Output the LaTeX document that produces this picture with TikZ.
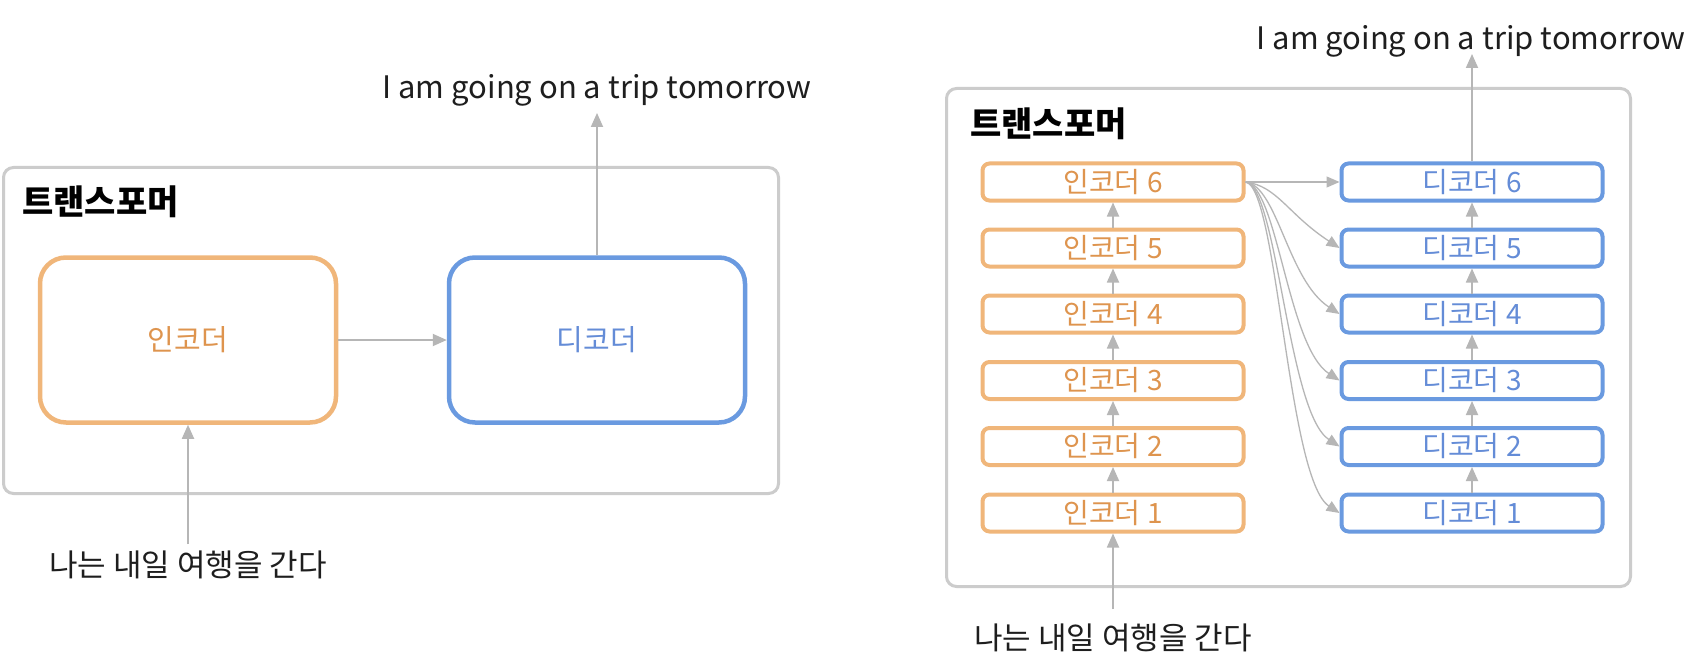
\documentclass[tikz,border=0pt]{standalone}
\usepackage{fontspec}
\setmainfont{Noto Sans CJK KR}
\usetikzlibrary{arrows.meta}
\definecolor{encline}{RGB}{240,182,122}
\definecolor{enctext}{RGB}{222,148,78}
\definecolor{decline}{RGB}{106,154,224}
\definecolor{dectext}{RGB}{100,140,215}
\definecolor{framecol}{RGB}{204,204,204}
\definecolor{arrcol}{RGB}{182,182,182}
\definecolor{txtcol}{RGB}{30,30,30}
\begin{document}
\begin{tikzpicture}[x=1pt,y=-1pt,
  framebox/.style={draw=framecol, line width=3pt, rounded corners=10pt, inner sep=0pt},
  bigenc/.style={draw=encline, line width=4.5pt, rounded corners=26pt, minimum width=296pt, minimum height=165pt, inner sep=0pt, text=enctext, font=\fontsize{29}{34}\selectfont},
  bigdec/.style={bigenc, draw=decline, text=dectext},
  smallenc/.style={draw=encline, line width=4pt, rounded corners=7pt, minimum width=261pt, minimum height=37pt, inner sep=0pt, text=enctext, font=\fontsize{28}{32}\selectfont},
  smalldec/.style={smallenc, draw=decline, text=dectext},
  title/.style={anchor=west, inner sep=0pt, text=black, font=\fontsize{34}{40}\selectfont\bfseries},
  label/.style={inner sep=0pt, text=txtcol, font=\fontsize{31}{36}\selectfont},
  conn/.style={draw=arrcol, line width=1.8pt, -{Triangle[length=14pt,width=12pt]}},
  thin/.style={draw=arrcol, line width=1.3pt, -{Triangle[length=13pt,width=11pt]}}
]
\useasboundingbox[fill=white] (0,0) rectangle (1690,666);

% ---------- left panel ----------
\node[framebox, minimum width=775pt, minimum height=326pt] (frameL) at (391,330.5) {};
\node[title] (titleL) at (22,202) {트랜스포머};
\node[bigenc] (enc) at (188,340) {인코더};
\node[bigdec] (dec) at (597,340) {디코더};
\node[label] (inL) at (188,565) {나는 내일 여행을 간다};
\node[label] (outL) at (597,90) {I am going on a trip tomorrow};
\coordinate (inLs) at (188,544);
\coordinate (outLe) at (597,113);
\draw[conn] (enc.east) -- (dec.west);
\draw[conn] (inLs) -- (enc.south);
\draw[conn] (dec.north) -- (outLe);

% ---------- right panel ----------
\node[framebox, minimum width=684pt, minimum height=498pt] (frameR) at (1288.5,337.5) {};
\node[title] (titleR) at (970,124) {트랜스포머};
\foreach \i/\y in {6/182,5/248,4/314,3/380.5,2/446.5,1/513}{
  \node[smallenc] (e\i) at (1113,\y) {인코더 \i};
  \node[smalldec] (d\i) at (1472,\y) {디코더 \i};
}
\foreach \a/\b in {1/2,2/3,3/4,4/5,5/6}{
  \draw[conn] (e\a.north) -- (e\b.south);
  \draw[conn] (d\a.north) -- (d\b.south);
}
\node[label] (inR) at (1113,638) {나는 내일 여행을 간다};
\node[label] (outR) at (1471,41) {I am going on a trip tomorrow};
\coordinate (inRs) at (1113,609);
\coordinate (outRe) at (1472,54);
\draw[conn] (inRs) -- (e1.south);
\draw[conn] (d6.north) -- (outRe);
\draw[thin] (e6.east) -- (d6.west);
\foreach \i in {5,4,3,2,1}{
  \draw[thin] (e6.east) .. controls +(32,4) and +(-52,-34) .. (d\i.west);
}
\end{tikzpicture}
\end{document}
